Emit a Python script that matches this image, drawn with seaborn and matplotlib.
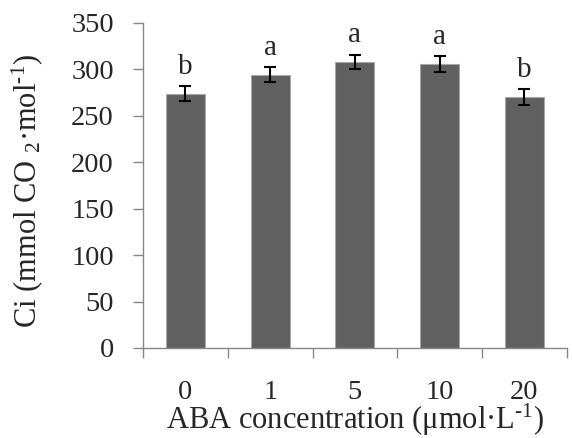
import numpy as np
import pandas as pd
import matplotlib
matplotlib.use("Agg")
import matplotlib.pyplot as plt
import seaborn as sns

# data
concentrations = ["0", "1", "5", "10", "20"]
ci_values = [274, 294.5, 308, 306, 270.5]
ci_errors = [8.4, 8.5, 8.0, 8.3, 8.4]
letters = ["b", "a", "a", "a", "b"]

sns.set_style("white")
plt.rcParams["font.family"] = ["Liberation Serif", "DejaVu Serif"]
plt.rcParams["mathtext.fontset"] = "custom"
plt.rcParams["mathtext.rm"] = "Liberation Serif"
plt.rcParams["mathtext.it"] = "Liberation Serif:italic"

df = pd.DataFrame({"conc": concentrations, "ci": ci_values})

fig = plt.figure(figsize=(5.72, 4.38), dpi=100)
ax = fig.add_axes([0.25, 0.2055, 0.741, 0.742])

sns.barplot(data=df, x="conc", y="ci", order=concentrations, color="#606060",
            saturation=1, width=0.46, edgecolor="#a8a8a8", linewidth=0.8,
            errorbar=None, ax=ax)

pos = np.arange(len(concentrations))
ax.errorbar(pos, ci_values, yerr=ci_errors, fmt="none", ecolor="black",
            elinewidth=1.5, capsize=4.3, capthick=1.5)

for p, v, e, t in zip(pos, ci_values, ci_errors, letters):
    ax.text(p, v + e + 13, t, ha="center", va="baseline", fontsize=21)

ax.set_ylim(0, 350)
ax.set_yticks(range(0, 351, 50))
ax.set_xlim(-0.5, len(concentrations) - 0.5)

# Excel style: ticks on category boundaries, labels at centres
ax.set_xticks(np.arange(-0.5, len(concentrations), 1.0))
ax.set_xticklabels([])
ax.set_xticks(pos, minor=True)
ax.set_xticklabels(concentrations, minor=True)
ax.tick_params(axis="x", which="major", direction="out", length=7, width=1,
               color="#888888", bottom=True)
ax.tick_params(axis="x", which="minor", length=0, pad=23, labelsize=20.5)
ax.tick_params(axis="y", direction="out", length=7, width=1, color="#888888",
               left=True, labelsize=20.5, pad=14)

for s in ["top", "right"]:
    ax.spines[s].set_visible(False)
for s in ["left", "bottom"]:
    ax.spines[s].set_color("#888888")
    ax.spines[s].set_linewidth(1)

ax.set_xlabel(r"ABA concentration (μmol·L$^{\text{-1}}$)", fontsize=22, labelpad=-2)
ax.set_ylabel(r"Ci (mmol CO $_{2}$·mol$^{\text{-1}}$)", fontsize=22)
ax.yaxis.set_label_coords(-0.231, 0.483)

fig.savefig("out.png", dpi=100)
